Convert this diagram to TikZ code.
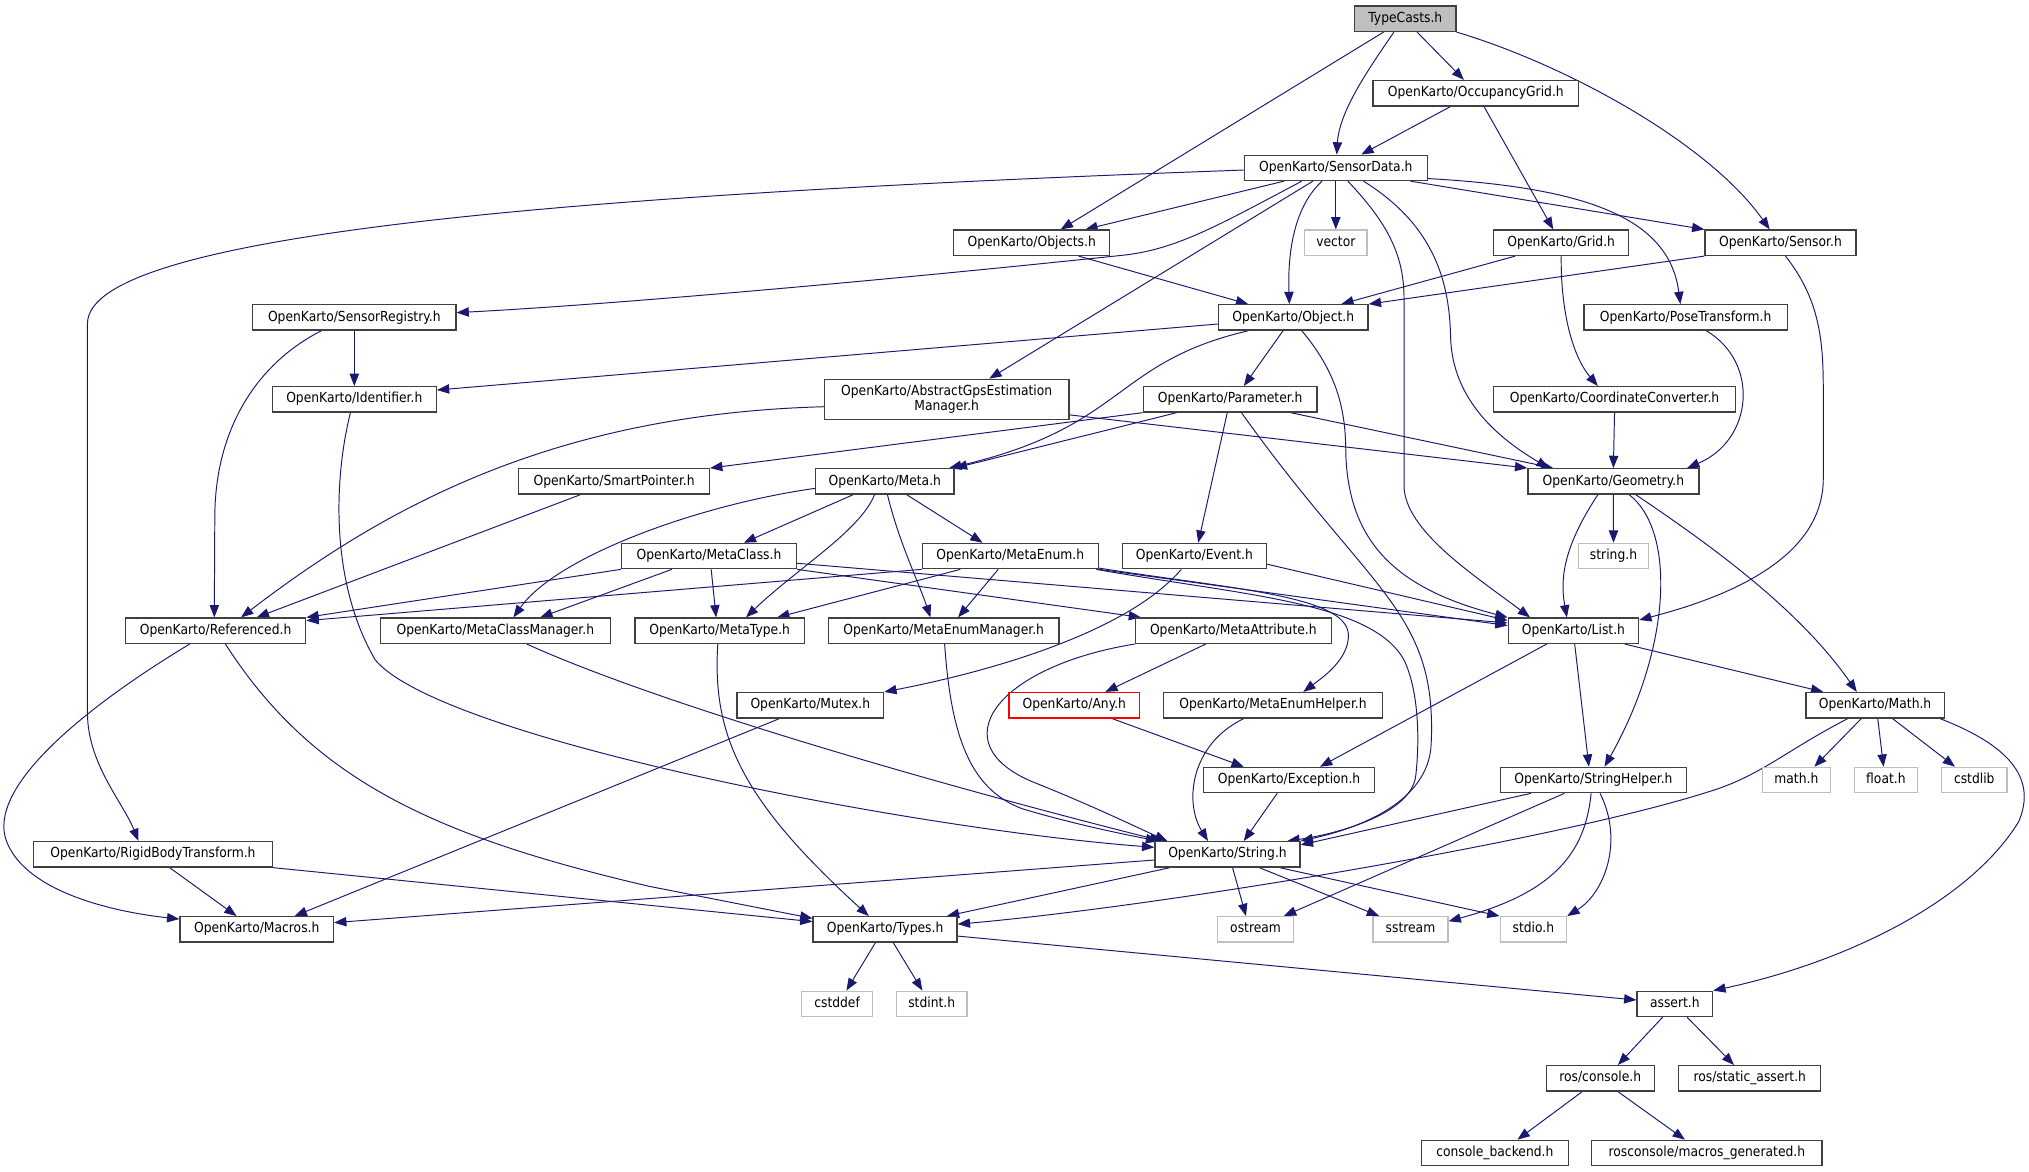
\documentclass[tikz,border=0pt]{standalone}
\usepackage{fontspec}
\setmainfont{DejaVu Sans}[FakeStretch=0.89]
\usetikzlibrary{arrows.meta,backgrounds}
\definecolor{edgeblue}{RGB}{25,25,112}
\definecolor{sysgrey}{RGB}{191,191,191}
\tikzset{
        hfile/.style={draw=black!75, line width=1pt, fill=white, inner xsep=2pt, inner ysep=0pt,
                minimum height=19.6pt, text height=8.1pt, text depth=2.5pt,
                font=\fontsize{10.7}{11.6}\selectfont},
        sysfile/.style={hfile, draw=sysgrey},
        mainfile/.style={hfile, fill=sysgrey},
        missfile/.style={hfile, draw=red},
        incl/.style={draw=edgeblue, line width=0.75pt, -{Triangle[length=9.5pt,width=7.2pt]}},
}
\begin{document}
\begin{tikzpicture}[x=1pt, y=-1pt]
        \useasboundingbox (0,0) rectangle (1568,905.7);     %画布大小与原图一致
        \node[mainfile, minimum width=78.3pt] (TC) at (1086,14.5) {TypeCasts.h};
        \node[hfile, minimum width=159pt] (OG) at (1140.5,72) {OpenKarto/OccupancyGrid.h};
        \node[hfile, minimum width=141.5pt] (SD) at (1032.3,129.7) {OpenKarto/SensorData.h};
        \node[hfile, minimum width=120.6pt] (OBS) at (797.3,187.6) {OpenKarto/Objects.h};
        \node[sysfile, minimum width=48.3pt] (VEC) at (1032.3,187.6) {vector};
        \node[hfile, minimum width=104.2pt] (GRID) at (1206.5,187.6) {OpenKarto/Grid.h};
        \node[hfile, minimum width=116.6pt] (SEN) at (1375.9,187.6) {OpenKarto/Sensor.h};
        \node[hfile, minimum width=157pt] (SR) at (273.8,245.3) {OpenKarto/SensorRegistry.h};
        \node[hfile, minimum width=115.7pt] (OBJ) at (999.4,245.3) {OpenKarto/Object.h};
        \node[hfile, minimum width=157pt] (PT) at (1302.6,245.3) {OpenKarto/PoseTransform.h};
        \node[hfile, minimum width=126.7pt] (ID) at (273.8,308.6) {OpenKarto/Identifier.h};
        \node[hfile, minimum width=188.8pt, minimum height=31pt, text height={}, text depth={}, align=center]
                (AG) at (731.6,308.6) {OpenKarto/AbstractGpsEstimation\\Manager.h};
        \node[hfile, minimum width=134.3pt] (PAR) at (950.7,308.6) {OpenKarto/Parameter.h};
        \node[hfile, minimum width=186.6pt] (CC) at (1247.7,308.6) {OpenKarto/CoordinateConverter.h};
        \node[hfile, minimum width=147.3pt] (SP) at (474.6,372) {OpenKarto/SmartPointer.h};
        \node[hfile, minimum width=107pt] (META) at (683.8,372) {OpenKarto/Meta.h};
        \node[hfile, minimum width=132.1pt] (GEO) at (1246.8,372) {OpenKarto/Geometry.h};
        \node[sysfile, minimum width=54.6pt] (STRH) at (1246.9,429.7) {string.h};
        \node[hfile, minimum width=135.3pt] (MC) at (547.9,429.7) {OpenKarto/MetaClass.h};
        \node[hfile, minimum width=136pt] (ME) at (780.7,429.7) {OpenKarto/MetaEnum.h};
        \node[hfile, minimum width=111.5pt] (EV) at (923,429.7) {OpenKarto/Event.h};
        \node[hfile, minimum width=139.4pt] (REF) at (166.6,487.4) {OpenKarto/Referenced.h};
        \node[hfile, minimum width=177.6pt] (MCM) at (382.8,487.4) {OpenKarto/MetaClassManager.h};
        \node[hfile, minimum width=131.1pt] (MT) at (556.2,487.4) {OpenKarto/MetaType.h};
        \node[hfile, minimum width=178pt] (MEM) at (729.3,487.4) {OpenKarto/MetaEnumManager.h};
        \node[hfile, minimum width=151.4pt] (MA) at (953.1,487.4) {OpenKarto/MetaAttribute.h};
        \node[hfile, minimum width=100.7pt] (LIST) at (1215.9,487.4) {OpenKarto/List.h};
        \node[hfile, minimum width=113.3pt] (MUT) at (626.2,545) {OpenKarto/Mutex.h};
        \node[missfile, minimum width=101pt] (ANY) at (830.2,545) {OpenKarto/Any.h};
        \node[hfile, minimum width=168.8pt] (MEH) at (983.8,545) {OpenKarto/MetaEnumHelper.h};
        \node[hfile, minimum width=106.9pt] (MATH) at (1449,545) {OpenKarto/Math.h};
        \node[hfile, minimum width=132.2pt] (EXC) at (996.2,602.8) {OpenKarto/Exception.h};
        \node[hfile, minimum width=144.2pt] (SH) at (1231.4,602.8) {OpenKarto/StringHelper.h};
        \node[sysfile, minimum width=52.7pt] (MATHH) at (1388.2,602.8) {math.h};
        \node[sysfile, minimum width=48.3pt] (FLT) at (1457.4,602.8) {float.h};
        \node[sysfile, minimum width=50.4pt] (CSL) at (1525.7,602.8) {cstdlib};
        \node[hfile, minimum width=184.5pt] (RBT) at (118.2,660.2) {OpenKarto/RigidBodyTransform.h};
        \node[hfile, minimum width=112.1pt] (STRG) at (948.6,660.2) {OpenKarto/String.h};
        \node[hfile, minimum width=118.6pt] (MAC) at (198.4,718.2) {OpenKarto/Macros.h};
        \node[hfile, minimum width=111.3pt] (TYP) at (684,718.2) {OpenKarto/Types.h};
        \node[sysfile, minimum width=59pt] (OST) at (970.3,718.2) {ostream};
        \node[sysfile, minimum width=57.9pt] (SST) at (1090,718.2) {sstream};
        \node[sysfile, minimum width=51.4pt] (STDIO) at (1185,718.2) {stdio.h};
        \node[sysfile, minimum width=54.5pt] (CDEF) at (646.9,775.8) {cstddef};
        \node[sysfile, minimum width=54.6pt] (SINT) at (720,775.8) {stdint.h};
        \node[hfile, minimum width=58.4pt] (ASRT) at (1294.3,775.8) {assert.h};
        \node[hfile, minimum width=83.5pt] (RC) at (1236.6,833.3) {ros/console.h};
        \node[hfile, minimum width=109.7pt] (RSA) at (1352.2,833.3) {ros/static\_assert.h};
        \node[hfile, minimum width=113.9pt] (CB) at (1155.2,891) {console\_backend.h};
        \node[hfile, minimum width=178pt] (RMG) at (1319,891) {rosconsole/macros\_generated.h};

        \begin{scope}[on background layer]     %连线放在方框下面
        \draw[incl] ([xshift=-16.8pt]TC.south) -- ([xshift=22.4pt]OBS.north);
        \draw[incl] ([xshift=-8.8pt]TC.south) .. controls (1060,50) and (1035,85) .. ([xshift=0.7pt]SD.north);
        \draw[incl] ([xshift=9.1pt]TC.south) -- ([xshift=-9.2pt]OG.north);
        \draw[incl] (TC.south east) .. controls (1210,50) and (1320,110) .. ([xshift=-8.3pt]SEN.north);
        \draw[incl] ([xshift=-19.5pt]OG.south) -- ([xshift=19.7pt]SD.north);
        \draw[incl] ([xshift=6.3pt]OG.south) -- ([xshift=-6.2pt]GRID.north);
        \draw[incl] ([yshift=-1.7pt]SD.west) .. controls (450,150) and (67.6,180) .. (67.6,250) -- (67.6,551)
                .. controls (67.6,590) and (95,620) .. ([xshift=-11.2pt]RBT.north);     %最长的一条
        \draw[incl] ([xshift=-40.1pt]SD.south) -- ([xshift=41.4pt]OBS.north);
        \draw[incl] ([xshift=-26.3pt]SD.south) .. controls (940,175) and (910,192) .. (870,197)
                .. controls (700,215) and (480,235) .. ([yshift=3.7pt]SR.east);
        \draw[incl] ([xshift=-17.7pt]SD.south) -- ([xshift=32.9pt]AG.north);
        \draw[incl] ([xshift=-10.7pt]SD.south) .. controls (1000,160) and (995,195) .. ([xshift=-3pt]OBJ.north);
        \draw[incl] (SD.south) -- (VEC.north);
        \draw[incl] ([xshift=9.3pt]SD.south) .. controls (1070,170) and (1085,195) .. (1085,230) -- (1085,375)
                .. controls (1085,410) and (1140,445) .. ([xshift=-33.5pt]LIST.north);
        \draw[incl] ([xshift=21.4pt]SD.south) .. controls (1110,175) and (1120,220) .. (1121,260)
                .. controls (1122,310) and (1160,340) .. ([xshift=-49.9pt]GEO.north);
        \draw[incl] ([yshift=2pt]SD.south east) .. controls (1230,145) and (1290,170) .. ([xshift=-4pt]PT.north);
        \draw[incl] ([xshift=57.7pt]SD.south) -- (SEN.north west);
        \draw[incl] ([xshift=36.2pt]OBS.south) -- ([xshift=-34.8pt]OBJ.north);
        \draw[incl] ([xshift=-35.5pt]GRID.south) -- ([xshift=37.1pt]OBJ.north);
        \draw[incl] (SEN.south west) -- (OBJ.north east);
        \draw[incl] (GRID.south) .. controls (1206,240) and (1215,275) .. ([xshift=-12.9pt]CC.north);
        \draw[incl] ([xshift=16pt]PT.south) .. controls (1360,280) and (1355,340) .. ([xshift=57pt]GEO.north);
        \draw[incl] ([xshift=3.9pt]SEN.south) .. controls (1405,230) and (1409,260) .. (1409,300) -- (1409,370)
                .. controls (1409,420) and (1360,455) .. ([yshift=8.3pt]LIST.east);
        \draw[incl] ([yshift=-5.1pt]OBJ.west) -- ([yshift=7.2pt]ID.east);
        \draw[incl] ([xshift=-34.8pt]OBJ.south) .. controls (860,280) and (870,330) .. ([xshift=49.7pt]META.north);
        \draw[incl] ([xshift=-7.9pt]OBJ.south) -- ([xshift=10.5pt]PAR.north);
        \draw[incl] ([xshift=6.6pt]OBJ.south) .. controls (1035,290) and (1040,320) .. (1040,350)
                .. controls (1042,420) and (1080,455) .. (LIST.north west);
        \draw[incl] (SR.south) -- (ID.north);
        \draw[incl] ([xshift=-25.4pt]SR.south) .. controls (200,280) and (166,330) .. (166,400) -- ([xshift=-1pt]REF.north);
        \draw[incl] ([yshift=-5.7pt]AG.west) .. controls (430,320) and (300,390) .. ([xshift=19.7pt]REF.north);
        \draw[incl] ([yshift=4pt]AG.south east) -- (GEO.north west);
        \draw[incl] ([xshift=-3pt]ID.south) .. controls (258,370) and (255,450) .. (290,510)
                .. controls (340,570) and (700,640) .. ([yshift=5.4pt]STRG.west);
        \draw[incl] (PAR.south west) -- (SP.north east);
        \draw[incl] ([xshift=-41.3pt]PAR.south) -- (META.north east);
        \draw[incl] ([xshift=46.7pt]PAR.south) -- ([xshift=-46.5pt]GEO.north);
        \draw[incl] ([xshift=-2.3pt]PAR.south) -- ([xshift=3pt]EV.north);
        \draw[incl] ([xshift=8.7pt]PAR.south) .. controls (1010,390) and (1050,430) .. (1075,465)
                .. controls (1100,500) and (1108,530) .. (1106,575) .. controls (1104,620) and (1050,640) .. (STRG.north east);
        \draw[incl] ([xshift=-24.5pt]META.south) -- ([xshift=26.9pt]MC.north);
        \draw[incl] ([xshift=-8pt]META.south) .. controls (665,410) and (615,440) .. ([xshift=20.3pt]MT.north);
        \draw[incl] ([xshift=2pt]META.south) .. controls (695,420) and (710,450) .. ([xshift=-10.3pt]MEM.north);
        \draw[incl] ([xshift=16.9pt]META.south) -- ([xshift=-21.4pt]ME.north);
        \draw[incl] ([yshift=-5.4pt]META.west) .. controls (540,390) and (430,430) .. ([xshift=14pt]MCM.north);
        \draw[incl] ([xshift=-28.7pt]MC.south) -- ([xshift=34.7pt]MCM.north);
        \draw[incl] ([xshift=1.7pt]MC.south) -- ([xshift=-2.8pt]MT.north);
        \draw[incl] (MC.south east) -- ([xshift=-71.3pt]MA.north);
        \draw[incl] (MC.south west) -- (REF.north east);
        \draw[incl] ([yshift=-5.6pt]MC.east) -- ([yshift=6pt]LIST.west);
        \draw[incl] (ME.south west) -- ([yshift=7.8pt]REF.east);
        \draw[incl] ([xshift=-38.6pt]ME.south) -- ([xshift=44.4pt]MT.north);
        \draw[incl] ([xshift=-9.3pt]ME.south) -- ([xshift=11.1pt]MEM.north);
        \draw[incl] (ME.south east) -- ([yshift=4pt]LIST.west);
        \draw[incl] ([yshift=1pt]ME.south east) .. controls (950,455) and (1040,460) .. (1042,490)
                .. controls (1043,510) and (1020,525) .. ([xshift=23.4pt]MEH.north);
        \draw[incl] ([xshift=-2pt]ME.south east) .. controls (960,460) and (1060,465) .. (1085,510)
                .. controls (1097,535) and (1097,575) .. (1094,600) .. controls (1090,630) and (1030,645) .. ([xshift=-10.3pt]STRG.north east);
        \draw[incl] ([xshift=-10.1pt]EV.south) .. controls (870,490) and (760,520) .. (MUT.north east);
        \draw[incl] ([yshift=4pt]EV.south east) -- ([yshift=8pt]LIST.west);
        \draw[incl] ([xshift=-21.3pt]MA.south) -- ([xshift=24pt]ANY.north);
        \draw[incl] (MA.south west) .. controls (770,515) and (725,575) .. (800,605)
                .. controls (845,623) and (880,640) .. ([xshift=10pt]STRG.north west);
        \draw[incl] ([xshift=0.7pt]MEM.south) .. controls (735,570) and (750,610) .. (790,625)
                .. controls (830,637) and (870,645) .. ([xshift=3pt]STRG.north west);
        \draw[incl] ([xshift=24.3pt]MCM.south) .. controls (500,540) and (700,600) .. ([xshift=6pt]STRG.north west);
        \draw[incl] ([xshift=-1.5pt]MT.south) .. controls (550,570) and (575,620) .. ([xshift=-12.6pt]TYP.north);
        \draw[incl] ([xshift=-23.8pt]MUT.south) -- ([xshift=29.3pt]MAC.north);
        \draw[incl] ([xshift=29.2pt]ANY.south) -- ([xshift=-35pt]EXC.north);
        \draw[incl] ([xshift=-22.6pt]MEH.south) .. controls (920,575) and (915,620) .. ([xshift=-15.1pt]STRG.north);
        \draw[incl] ([xshift=-9.2pt]EXC.south) -- ([xshift=12.6pt]STRG.north);
        \draw[incl] ([xshift=-20.6pt]LIST.south) -- ([xshift=23.9pt]EXC.north);
        \draw[incl] ([xshift=1pt]LIST.south) -- ([xshift=-3.5pt]SH.north);
        \draw[incl] ([xshift=39.6pt]LIST.south) -- ([xshift=-40pt]MATH.north);
        \draw[incl] (GEO.south) -- (STRH.north);
        \draw[incl] ([xshift=-12pt]GEO.south) .. controls (1210,420) and (1205,445) .. ([xshift=-5pt]LIST.north);
        \draw[incl] ([xshift=12.2pt]GEO.south) .. controls (1295,410) and (1292,500) .. ([xshift=8.6pt]SH.north);
        \draw[incl] ([xshift=17.3pt]GEO.south) .. controls (1320,420) and (1390,470) .. ([xshift=-14.1pt]MATH.north);
        \draw[incl] (CC.south) -- (GEO.north);
        \draw[incl] ([xshift=-48.4pt]SH.south) -- ([yshift=-3pt]STRG.north east);
        \draw[incl] ([xshift=-22.5pt]SH.south) -- ([xshift=21.9pt]OST.north);
        \draw[incl] ([xshift=-1.8pt]SH.south) .. controls (1225,660) and (1200,690) .. ([yshift=-4pt]SST.north east);
        \draw[incl] ([xshift=5.1pt]SH.south) .. controls (1255,650) and (1240,690) .. (STDIO.north east);
        \draw[incl] ([xshift=-21pt]MATH.south) .. controls (1380,580) and (1360,600) .. (1320,612)
                .. controls (1200,650) and (900,700) .. ([yshift=4pt]TYP.east);
        \draw[incl] ([xshift=-10.6pt]MATH.south) -- ([xshift=13.9pt]MATHH.north);
        \draw[incl] ([xshift=2.1pt]MATH.south) -- ([xshift=-1.8pt]FLT.north);
        \draw[incl] ([xshift=13.5pt]MATH.south) -- ([xshift=-14.9pt]CSL.north);
        \draw[incl] ([xshift=-3.8pt]MATH.south east) .. controls (1550,575) and (1575,600) .. (1560,635)
                .. controls (1520,700) and (1420,745) .. (ASRT.north east);
        \draw[incl] ([yshift=-4.4pt]STRG.west) -- ([yshift=5.2pt]MAC.east);
        \draw[incl] ([xshift=-44.4pt]STRG.south) -- ([xshift=47.7pt]TYP.north);
        \draw[incl] ([xshift=3.9pt]STRG.south) -- ([xshift=-7.4pt]OST.north);
        \draw[incl] ([xshift=24.6pt]STRG.south) -- ([xshift=-24.2pt]SST.north);
        \draw[incl] ([xshift=40.2pt]STRG.south) -- (STDIO.north west);
        \draw[incl] ([xshift=-7.5pt]TYP.south) -- ([xshift=7.2pt]CDEF.north);
        \draw[incl] ([xshift=6.3pt]TYP.south) -- ([xshift=-7.2pt]SINT.north);
        \draw[incl] ([yshift=-5.2pt]TYP.east) -- ([yshift=3pt]ASRT.west);
        \draw[incl] ([xshift=12.9pt]RBT.south) -- ([xshift=-15.6pt]MAC.north);
        \draw[incl] (RBT.south east) -- ([yshift=6pt]TYP.west);
        \draw[incl] ([xshift=-20pt]REF.south) .. controls (60,550) and (-10,610) .. (5,650)
                .. controls (20,690) and (90,705) .. ([yshift=8pt]MAC.west);
        \draw[incl] ([xshift=7.6pt]REF.south) .. controls (240,600) and (330,645) .. (502,685) -- ([yshift=8.5pt]TYP.west);
        \draw[incl] ([xshift=-26.1pt]SP.south) -- ([xshift=31.8pt]REF.north);
        \draw[incl] ([xshift=-9.5pt]ASRT.south) -- ([xshift=13.7pt]RC.north);
        \draw[incl] ([xshift=9.5pt]ASRT.south) -- ([xshift=-12.2pt]RSA.north);
        \draw[incl] ([xshift=-13.9pt]RC.south) -- ([xshift=17.5pt]CB.north);
        \draw[incl] ([xshift=13.7pt]RC.south) -- ([xshift=-16.9pt]RMG.north);
        \end{scope}
\end{tikzpicture}
\end{document}
